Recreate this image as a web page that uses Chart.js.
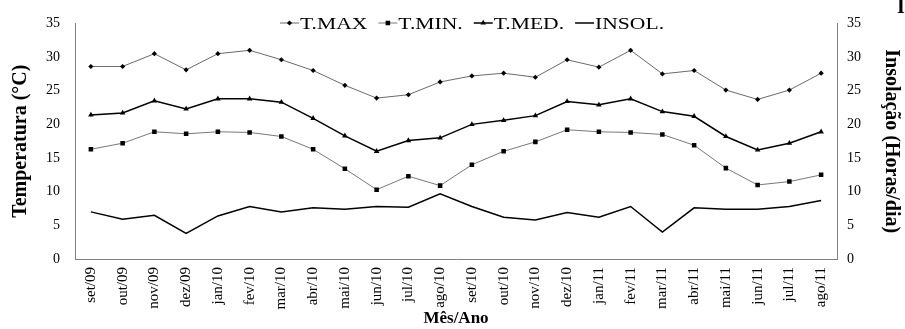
<!DOCTYPE html>
<html>
<head>
<meta charset="utf-8">
<script src="https://cdn.jsdelivr.net/npm/chart.js@4"></script>
<style>
  body { margin: 0; background: #fff; }
  #wrap { width: 905px; height: 329px; position: relative; }
</style>
</head>
<body>
<div id="wrap"><canvas id="climaChart"></canvas></div>
<script>
const meses = ['set/09','out/09','nov/09','dez/09','jan/10','fev/10','mar/10','abr/10','mai/10','jun/10','jul/10','ago/10',
               'set/10','out/10','nov/10','dez/10','jan/11','fev/11','mar/11','abr/11','mai/11','jun/11','jul/11','ago/11'];
const tMax  = [28.6,28.6,30.5,28.1,30.5,31.0,29.6,28.0,25.8,23.9,24.4,26.3,27.2,27.6,27.0,29.6,28.5,31.0,27.5,28.0,25.1,23.7,25.1,27.6];
const tMin  = [16.3,17.2,18.9,18.6,18.9,18.8,18.2,16.3,13.4,10.3,12.3,10.9,14.0,16.0,17.4,19.2,18.9,18.8,18.5,16.9,13.5,11.0,11.5,12.5];
const tMed  = [21.4,21.7,23.5,22.3,23.8,23.8,23.3,20.9,18.3,16.0,17.6,18.0,20.0,20.6,21.3,23.4,22.9,23.8,21.9,21.2,18.2,16.2,17.2,18.9];
const insol = [7.0,5.9,6.5,3.8,6.4,7.8,7.0,7.6,7.4,7.8,7.7,9.7,7.8,6.2,5.8,6.9,6.2,7.8,4.0,7.6,7.4,7.4,7.8,8.7];
const ticksY = [0,5,10,15,20,25,30,35];

const serif = "'Liberation Serif', 'Times New Roman', serif";
const cinza = '#808080';

// legenda desenhada a mao, no topo, sobre a area do grafico
const legendaTopo = {
    id: 'legendaTopo',
    afterDraw(chart) {
        const ctx = chart.ctx;
        const cy = 23;
        let x = 280;
        ctx.save();
        chart.data.datasets.forEach(ds => {
            ctx.strokeStyle = ds.borderColor;
            ctx.lineWidth = ds.borderWidth;
            ctx.beginPath();
            ctx.moveTo(x, cy);
            ctx.lineTo(x + 19, cy);
            ctx.stroke();
            if (ds.pointRadius > 0) {
                ctx.fillStyle = ds.pointBackgroundColor;
                ctx.strokeStyle = ds.pointBorderColor;
                ctx.lineWidth = 1;
                Chart.helpers.drawPoint(ctx, { pointStyle: ds.pointStyle, radius: ds.pointRadius, rotation: 0, borderWidth: 0 }, x + 9.5, cy);
            }
            x += 19;
            ctx.font = '17px ' + serif;
            ctx.fillStyle = '#000';
            ctx.textBaseline = 'alphabetic';
            const w = ctx.measureText(ds.label).width * 1.27;
            ctx.save();
            ctx.translate(x + 1, 29);
            ctx.scale(1.27, 1);
            ctx.fillText(ds.label, 0, 0);
            ctx.restore();
            x += w + 12;
        });
        // pedaco do titulo cortado no canto
        ctx.font = 'bold 20px ' + serif;
        ctx.fillStyle = '#000';
        ctx.fillText('I', 897, 13);
        ctx.restore();
    }
};

const ctx = document.getElementById('climaChart').getContext('2d');
new Chart(ctx, {
    type: 'line',
    data: {
        labels: meses,
        datasets: [
            {
                label: 'T.MAX',
                data: tMax,
                borderColor: '#444',
                borderWidth: 0.8,
                pointStyle: 'rectRot',
                pointRadius: 2.6,
                pointBackgroundColor: '#000',
                pointBorderColor: '#000',
                pointBorderWidth: 0,
                yAxisID: 'y'
            },
            {
                label: 'T.MIN.',
                data: tMin,
                borderColor: '#555',
                borderWidth: 0.8,
                pointStyle: 'rect',
                pointRadius: 3.2,
                pointBackgroundColor: '#000',
                pointBorderColor: '#000',
                pointBorderWidth: 0,
                yAxisID: 'y'
            },
            {
                label: 'T.MED.',
                data: tMed,
                borderColor: '#000',
                borderWidth: 1.5,
                pointStyle: 'triangle',
                pointRadius: 3.2,
                pointBackgroundColor: '#000',
                pointBorderColor: '#000',
                pointBorderWidth: 0,
                yAxisID: 'y'
            },
            {
                label: 'INSOL.',
                data: insol,
                borderColor: '#000',
                borderWidth: 1.5,
                pointRadius: 0,
                yAxisID: 'y1'
            }
        ]
    },
    options: {
        responsive: true,
        maintainAspectRatio: false,
        animation: false,
        events: [],
        layout: { padding: { top: 12, left: 0, right: 0, bottom: 0 } },
        plugins: {
            legend: { display: false },
            tooltip: { enabled: false }
        },
        elements: { line: { tension: 0 } },
        scales: {
            x: {
                offset: true,
                grid: { display: false, drawTicks: false },
                border: { color: cinza },
                ticks: {
                    autoSkip: false,
                    minRotation: 90,
                    maxRotation: 90,
                    padding: 8,
                    color: '#000',
                    font: { family: serif, size: 15 }
                },
                title: {
                    display: true,
                    text: 'Mês/Ano',
                    color: '#000',
                    padding: { top: 0, bottom: 0 },
                    font: { family: serif, size: 17, weight: 'bold' }
                },
                afterFit(s) { s.height = 70; }
            },
            y: {
                position: 'left',
                min: ticksY[0],
                max: ticksY[ticksY.length - 1],
                afterBuildTicks(s) { s.ticks = ticksY.map(v => ({ value: v })); },
                grid: { display: false, drawTicks: false },
                border: { color: cinza },
                ticks: { padding: 15, color: '#000', font: { family: serif, size: 14 } },
                title: {
                    display: true,
                    text: 'Temperatura (°C)',
                    color: '#000',
                    padding: { top: 9, bottom: 0 },
                    font: { family: serif, size: 20, weight: 'bold' }
                },
                afterFit(s) { s.width = 75; }
            },
            y1: {
                position: 'right',
                min: ticksY[0],
                max: ticksY[ticksY.length - 1],
                afterBuildTicks(s) { s.ticks = ticksY.map(v => ({ value: v })); },
                grid: { display: false, drawTicks: false },
                border: { color: cinza },
                ticks: { padding: 10, color: '#000', font: { family: serif, size: 14 } },
                title: {
                    display: true,
                    text: 'Insolação (Horas/dia)',
                    color: '#000',
                    padding: { top: 2, bottom: 0 },
                    font: { family: serif, size: 20, weight: 'bold' }
                },
                afterFit(s) { s.width = 68; }
            }
        }
    },
    plugins: [legendaTopo]
});
</script>
</body>
</html>
